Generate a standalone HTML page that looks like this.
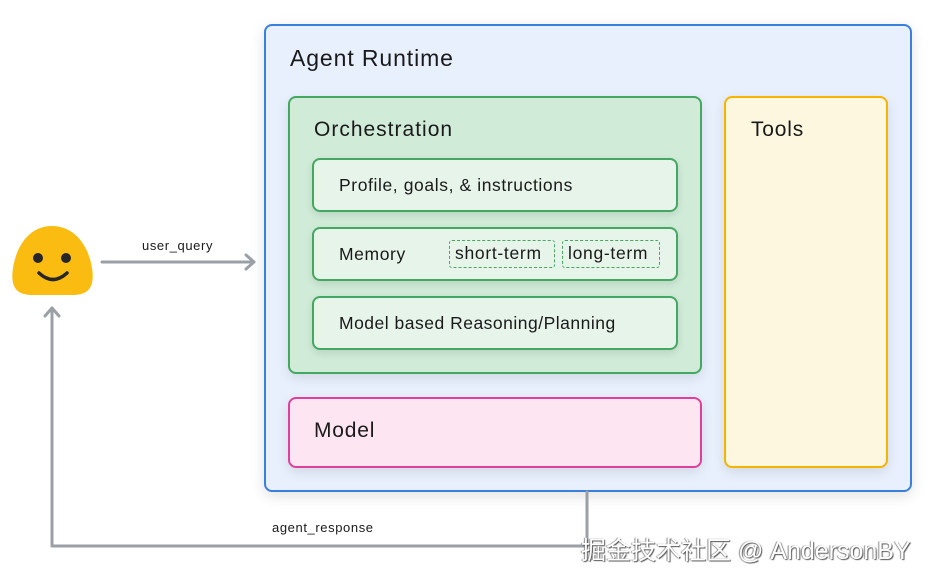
<!DOCTYPE html>
<html><head><meta charset="utf-8"><style>
body{margin:0;width:930px;height:579px;background:#fff;position:relative;overflow:hidden;font-family:"Liberation Sans","Noto Sans CJK SC",sans-serif;color:#1a1a1a}
.b{position:absolute;box-sizing:border-box;border-radius:8px}
.t{position:absolute;white-space:nowrap}
</style></head><body>
<div class="b" style="left:264px;top:24px;width:648px;height:468px;border:2px solid #3b7fdc;background:#e8f0fd;box-shadow:0 4px 14px rgba(0,0,0,0.12)"></div>
<div class="t" style="left:290px;top:45px;font-size:23px;letter-spacing:0.9px">Agent Runtime</div>
<div class="b" style="left:288px;top:96px;width:414px;height:278px;border:2px solid #45a862;background:#d0ebd8;box-shadow:0 4px 12px rgba(0,0,0,0.1)"></div>
<div class="t" style="left:314px;top:118px;font-size:21px;letter-spacing:1px">Orchestration</div>
<div class="b" style="left:312px;top:158px;width:366px;height:54px;border:2px solid #45a862;background:#e6f4ea;box-shadow:0 3px 8px rgba(0,0,0,0.1)"></div>
<div class="t" style="left:339px;top:175px;font-size:17.5px;letter-spacing:0.6px">Profile, goals, &amp; instructions</div>
<div class="b" style="left:312px;top:227px;width:366px;height:54px;border:2px solid #45a862;background:#e6f4ea;box-shadow:0 3px 8px rgba(0,0,0,0.1)"></div>
<div class="t" style="left:339px;top:244px;font-size:17.5px;letter-spacing:0.6px">Memory</div>
<div class="b" style="left:449px;top:240px;width:106px;height:28px;border:1.5px dashed #45a862;border-radius:3px"></div>
<div class="t" style="left:455px;top:243px;font-size:17.5px;letter-spacing:0.7px">short-term</div>
<div class="b" style="left:562px;top:240px;width:98px;height:28px;border:1.5px dashed #45a862;border-radius:3px"></div>
<div class="t" style="left:568px;top:243px;font-size:17.5px;letter-spacing:0.7px">long-term</div>
<div class="b" style="left:312px;top:296px;width:366px;height:54px;border:2px solid #45a862;background:#e6f4ea;box-shadow:0 3px 8px rgba(0,0,0,0.1)"></div>
<div class="t" style="left:339px;top:313px;font-size:17.5px;letter-spacing:0.5px">Model based Reasoning/Planning</div>
<div class="b" style="left:288px;top:397px;width:414px;height:71px;border:2px solid #e0409a;background:#fde6f2;box-shadow:0 4px 12px rgba(0,0,0,0.1)"></div>
<div class="t" style="left:314px;top:419px;font-size:21px;letter-spacing:0.8px">Model</div>
<div class="b" style="left:724px;top:96px;width:164px;height:372px;border:2px solid #f4b400;background:#fef7df;box-shadow:0 4px 12px rgba(0,0,0,0.1)"></div>
<div class="t" style="left:751px;top:118px;font-size:21px;letter-spacing:0.8px">Tools</div>
<svg width="930" height="579" style="position:absolute;left:0;top:0">
<path d="M52,226 C76,226 89,248 92,268 C95,288 88,295 72,295 L33,295 C17,295 10,288 13,268 C16,248 28,226 52,226 Z" fill="#fbbc12"/>
<circle cx="38" cy="258" r="5" fill="#262626"/><circle cx="66" cy="258" r="5" fill="#262626"/>
<path d="M39,273 Q53,286 67,273" stroke="#262626" stroke-width="3.5" fill="none" stroke-linecap="round"/>
<g stroke="#9aa0a6" stroke-width="3" fill="none" stroke-linecap="round" stroke-linejoin="round">
<path d="M102,262 L254,262 M246,255 L254,262 L246,269"/>
<path d="M587,492 L587,546 L52,546 L52,308 M45,316 L52,308 L59,316"/>
</g>
</svg>
<div class="t" style="left:142px;top:238px;font-size:13px;letter-spacing:0.6px">user_query</div>
<div class="t" style="left:272px;top:520px;font-size:13px;letter-spacing:0.6px">agent_response</div>
<div class="t" style="left:581px;top:531px;font-size:25px;color:#fff;text-shadow:1px 1px 1px #555,-1px 0 1px #888">掘金技术社区 @ AndersonBY</div>
</body></html>
